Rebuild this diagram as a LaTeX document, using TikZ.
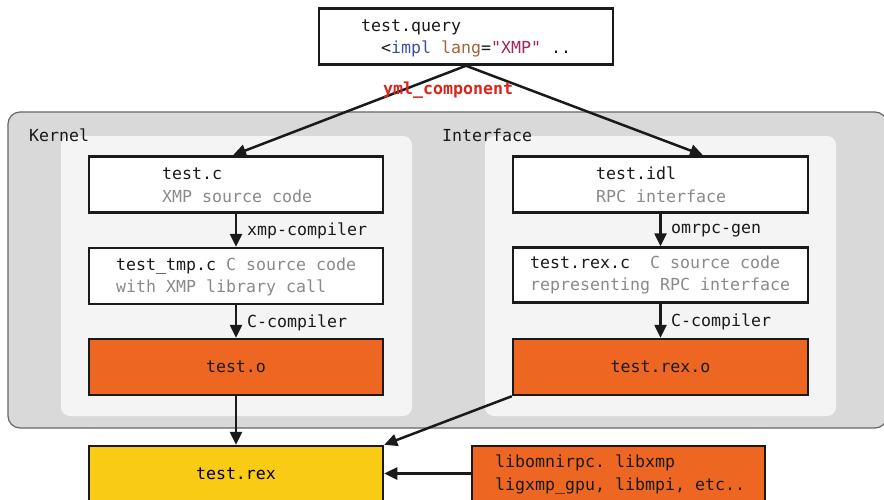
\documentclass[tikz,border=0pt]{standalone}
\usepackage{fontspec}
\setmonofont{DejaVu Sans Mono}
\usetikzlibrary{arrows.meta}
\definecolor{outerbg}{HTML}{D9D9D9}
\definecolor{outerline}{HTML}{666666}
\definecolor{innerbg}{HTML}{F4F4F4}
\definecolor{orangebox}{HTML}{EE6722}
\definecolor{yellowbox}{HTML}{F9CB15}
\definecolor{graytext}{HTML}{8A8A8A}
\definecolor{inktext}{HTML}{1A1A1A}
\definecolor{redlabel}{HTML}{D9261C}
\definecolor{codeblue}{HTML}{3A4EA3}
\definecolor{codebrown}{HTML}{A5623C}
\definecolor{codemag}{HTML}{A3235A}
\tikzset{
  filebox/.style={draw=inktext, line width=2.5pt, fill=white, minimum width=294pt, minimum height=56pt, inner sep=0pt},
  objbox/.style={filebox, fill=orangebox, text=inktext},
  txt/.style={anchor=base west, inner sep=0pt, text=inktext},
  subtxt/.style={anchor=base west, inner sep=0pt, text=graytext},
  flow/.style={draw=inktext, line width=2.5pt, -{Triangle[length=13pt,width=12pt]}},
  every node/.style={font=\ttfamily\fontsize{16.6}{20}\selectfont}
}
\begin{document}
\begin{tikzpicture}[x=1pt,y=-1pt]
\useasboundingbox (0,0) rectangle (884,499);
% backgrounds
\draw[fill=outerbg, draw=outerline, line width=1.2pt, rounded corners=12pt] (8,112) rectangle (887,428);
\fill[innerbg, rounded corners=9pt] (61,136) rectangle (412,416);
\fill[innerbg, rounded corners=9pt] (485,136) rectangle (836,416);
\node[txt] (kernel) at (29,141) {Kernel};
\node[txt] (iface) at (442,141) {Interface};
% top
\node[filebox] (query) at (466,36.5) {};
\node[txt] (q1) at (361,31) {test.query};
\node[txt] (q2) at (381,53) {<\textcolor{codeblue}{impl} \textcolor{codebrown}{lang}=\textcolor{codemag}{"XMP"} ..};
% left column
\node[filebox] (tc) at (236,184.5) {};
\node[txt] (tc1) at (162,179) {test.c};
\node[subtxt] (tc2) at (162,202) {XMP source code};
\node[filebox] (tmp) at (236,276) {};
\node[txt] (tmp1) at (116,270) {test\_tmp.c \textcolor{graytext}{C source code}};
\node[subtxt] (tmp2) at (116,292) {with XMP library call};
\node[objbox] (to) at (236,367) {test.o};
\node[filebox, fill=yellowbox, minimum height=55pt] (rex) at (236,473.5) {test.rex};
% right column
\node[filebox, minimum width=295pt] (idl) at (660.5,184.5) {};
\node[txt] (idl1) at (596,179) {test.idl};
\node[subtxt] (idl2) at (596,202) {RPC interface};
\node[filebox, minimum width=295pt, minimum height=55pt] (rexc) at (660.5,275) {};
\node[txt] (rexc1) at (530,268) {test.rex.c\ \ \textcolor{graytext}{C source code}};
\node[subtxt] (rexc2) at (530,290) {representing RPC interface};
\node[objbox, minimum width=295pt] (rexo) at (660.5,367) {test.rex.o};
\node[objbox, minimum width=293pt, minimum height=55pt] (libs) at (618.5,473.5) {};
\node[txt] (libs1) at (495,467) {libomnirpc. libxmp};
\node[txt] (libs2) at (495,490) {ligxmp\_gpu, libmpi, etc..};
% connectors
\draw[flow] (query.south) -- ([xshift=-3pt]tc.north);
\draw[flow] (query.south) -- ([xshift=42.5pt]idl.north);
\node[anchor=base west, inner sep=0pt, text=redlabel, font=\ttfamily\fontsize{16.6}{20}\selectfont\bfseries] (yml) at (383,94) {yml\_component};
\draw[flow] (tc.south) -- (tmp.north);
\node[txt] (l1) at (247,235) {xmp-compiler};
\draw[flow] (tmp.south) -- (to.north);
\node[txt] (l2) at (247,327) {C-compiler};
\draw[flow] (to.south) -- (rex.north);
\draw[flow] (idl.south) -- (rexc.north);
\node[txt] (l3) at (671,233) {omrpc-gen};
\draw[flow] (rexc.south) -- (rexo.north);
\node[txt] (l4) at (671,326) {C-compiler};
\draw[flow] (rexo.south west) -- (rex.north east);
\draw[flow] (libs.west) -- (rex.east);
\end{tikzpicture}
\end{document}
